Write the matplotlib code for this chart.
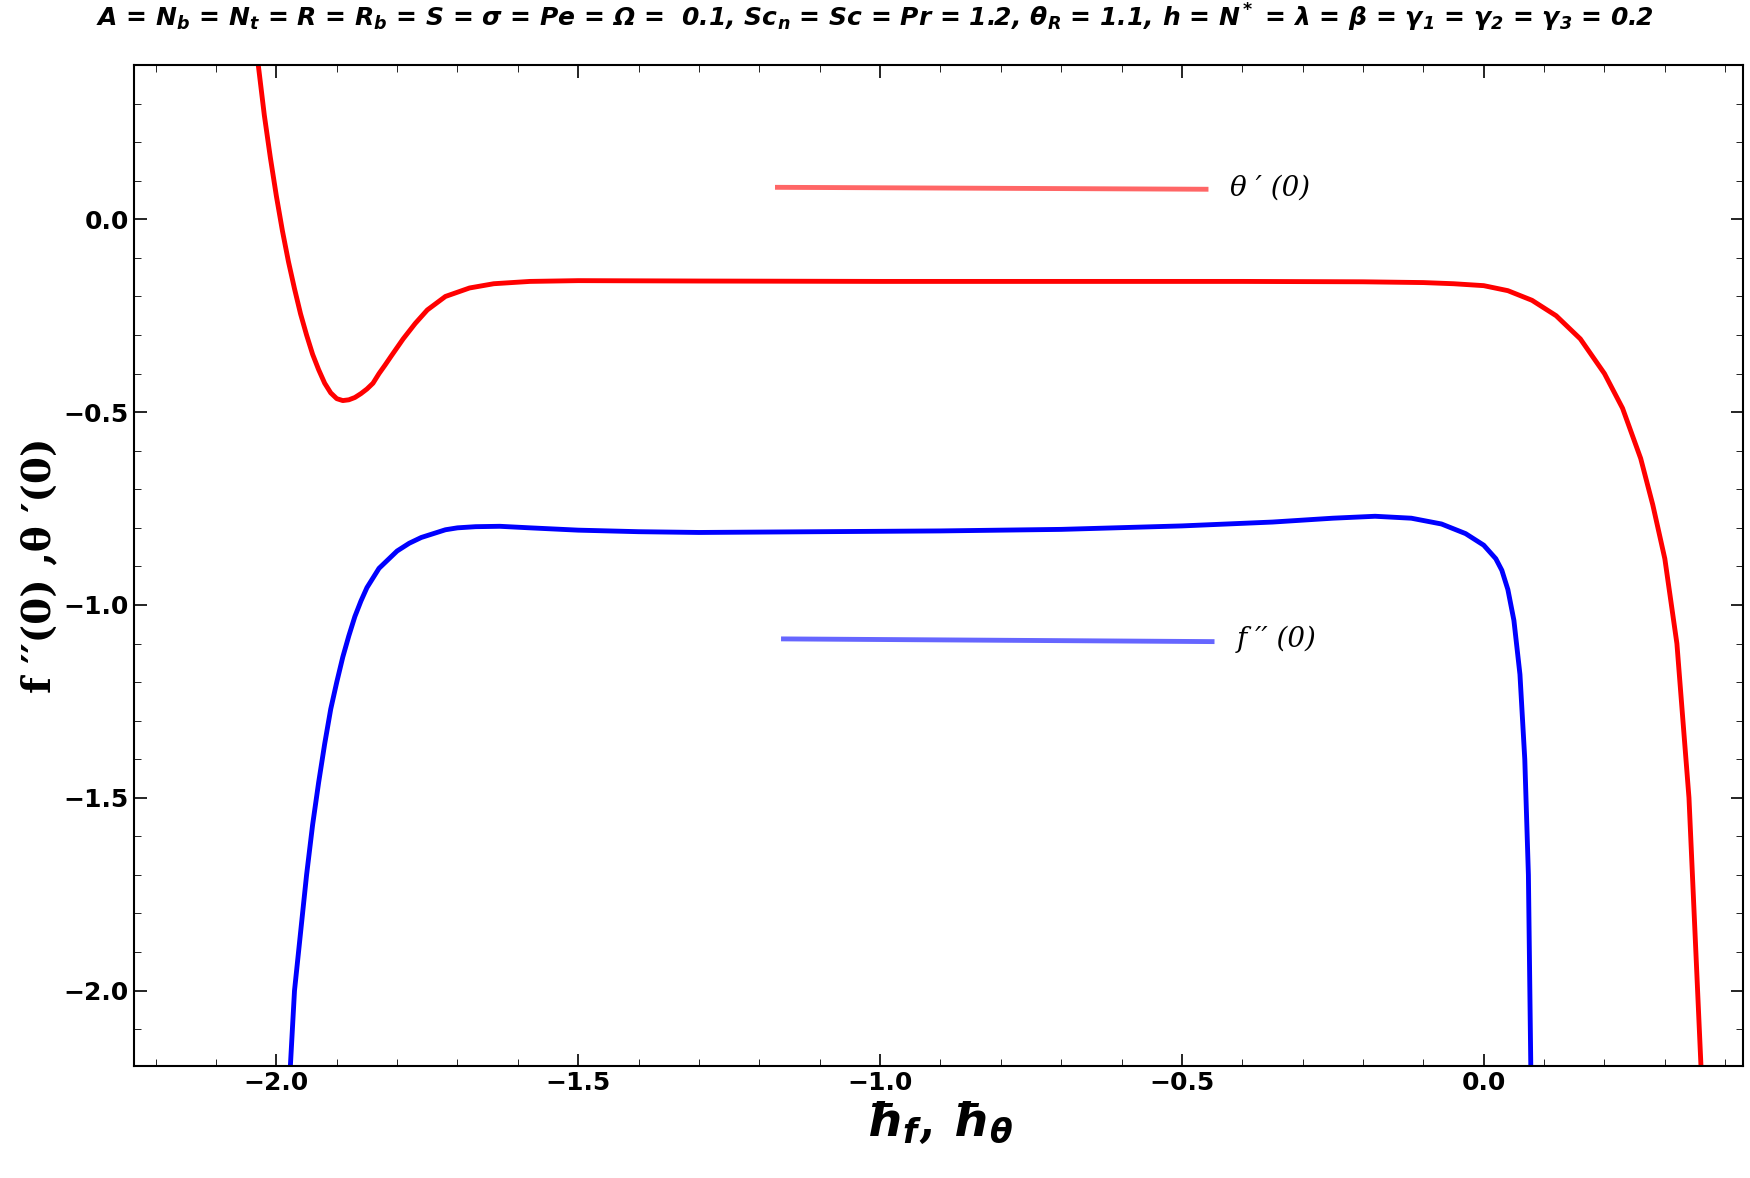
import matplotlib.pyplot as plt
from matplotlib.ticker import MultipleLocator

plt.rcParams['mathtext.default'] = 'bfit'

# values
theta_h = [-2.03, -2.02, -2.01, -2.0, -1.99, -1.98, -1.97, -1.96, -1.95, -1.94, -1.93, -1.92, -1.91,
           -1.90, -1.89, -1.88, -1.87, -1.86, -1.85, -1.84, -1.83, -1.82, -1.81,
           -1.79, -1.77, -1.75, -1.72, -1.68, -1.64, -1.58, -1.5, -1.3, -1.0, -0.7, -0.4,
           -0.2, -0.1, -0.05, 0.0, 0.04, 0.08, 0.12, 0.16, 0.2, 0.23, 0.26, 0.28, 0.30, 0.32, 0.34, 0.36]
theta_v = [0.40, 0.27, 0.16, 0.06, -0.03, -0.11, -0.18, -0.245, -0.30, -0.35, -0.39, -0.425, -0.45,
           -0.465, -0.47, -0.468, -0.462, -0.452, -0.44, -0.425, -0.40, -0.378, -0.355,
           -0.31, -0.27, -0.235, -0.20, -0.178, -0.167, -0.161, -0.159, -0.16, -0.161, -0.161, -0.161,
           -0.162, -0.164, -0.167, -0.172, -0.185, -0.21, -0.25, -0.31, -0.40, -0.49, -0.62, -0.74, -0.88, -1.10, -1.50, -2.20]

f_h = [-1.977, -1.97, -1.96, -1.95, -1.94, -1.93, -1.92, -1.91, -1.90, -1.89, -1.88, -1.87, -1.86,
       -1.85, -1.84, -1.83, -1.82, -1.80, -1.78, -1.76,
       -1.74, -1.72, -1.70, -1.67, -1.63, -1.58, -1.5, -1.4, -1.3, -1.1, -0.9, -0.7, -0.5,
       -0.35, -0.25, -0.18, -0.12, -0.07, -0.03, 0.0, 0.02, 0.03, 0.04, 0.05, 0.06, 0.068, 0.074, 0.078]
f_v = [-2.20, -2.0, -1.85, -1.70, -1.57, -1.46, -1.36, -1.27, -1.20, -1.135, -1.08, -1.03, -0.99,
       -0.955, -0.93, -0.905, -0.89, -0.86, -0.84, -0.825,
       -0.815, -0.805, -0.80, -0.797, -0.796, -0.80, -0.806, -0.81, -0.812, -0.81, -0.808, -0.804, -0.795,
       -0.785, -0.775, -0.77, -0.775, -0.79, -0.815, -0.845, -0.88, -0.91, -0.96, -1.04, -1.18, -1.40, -1.70, -2.20]

theta_leg_x = [-1.17, -0.46]
theta_leg_y = [0.083, 0.078]
f_leg_x = [-1.16, -0.45]
f_leg_y = [-1.088, -1.095]

fig, ax = plt.subplots(figsize=(17.5, 11.78), dpi=100)
fig.subplots_adjust(left=120/1568, right=1562/1568, top=1 - 58/1050, bottom=1 - 950/1050)

ax.plot(theta_h, theta_v, color='#ff0000', lw=3.5)
ax.plot(f_h, f_v, color='#0000ff', lw=3.5)
ax.plot(theta_leg_x, theta_leg_y, color='#ff0000', lw=3.5, alpha=0.6)
ax.plot(f_leg_x, f_leg_y, color='#0000ff', lw=3.5, alpha=0.6)
ax.text(-0.42, 0.08, "θ ′ (0)", fontsize=20, style='italic', family='DejaVu Serif', va='center')
ax.text(-0.41, -1.09, "f ′′ (0)", fontsize=20, style='italic', family='DejaVu Serif', va='center')

ax.set_xlim(-2.236, 0.43)
ax.set_ylim(-2.195, 0.40)
ax.xaxis.set_major_locator(MultipleLocator(0.5))
ax.xaxis.set_minor_locator(MultipleLocator(0.1))
ax.yaxis.set_major_locator(MultipleLocator(0.5))
ax.yaxis.set_minor_locator(MultipleLocator(0.1))
ax.tick_params(which='both', direction='in', top=True, right=True, labelsize=18)
ax.tick_params(which='major', length=9, width=1.2)
ax.tick_params(which='minor', length=5)
for lbl in ax.get_xticklabels() + ax.get_yticklabels():
    lbl.set_fontweight('bold')
for s in ax.spines.values():
    s.set_linewidth(1.5)

ax.set_xlabel(r"$\hbar_f$, $\hbar_\theta$", fontsize=34, fontweight='bold', family='DejaVu Serif')
ax.set_ylabel("f ′′(0) ,θ ′(0)", fontsize=28, fontweight='bold', family='DejaVu Serif')
fig.text(0.5, 0.985,
         r"$A$ = $N_b$ = $N_t$ = $R$ = $R_b$ = $S$ = $\sigma$ = $Pe$ = $\Omega$ =  0.1, $Sc_n$ = $Sc$ = Pr = 1.2, "
         r"$\theta_R$ = 1.1, $h$ = $N^*$ = $\lambda$ = $\beta$ = $\gamma_1$ = $\gamma_2$ = $\gamma_3$ = 0.2",
         ha='center', va='center', fontsize=18, fontweight='bold', style='italic')

plt.savefig("out.png", dpi=100)
